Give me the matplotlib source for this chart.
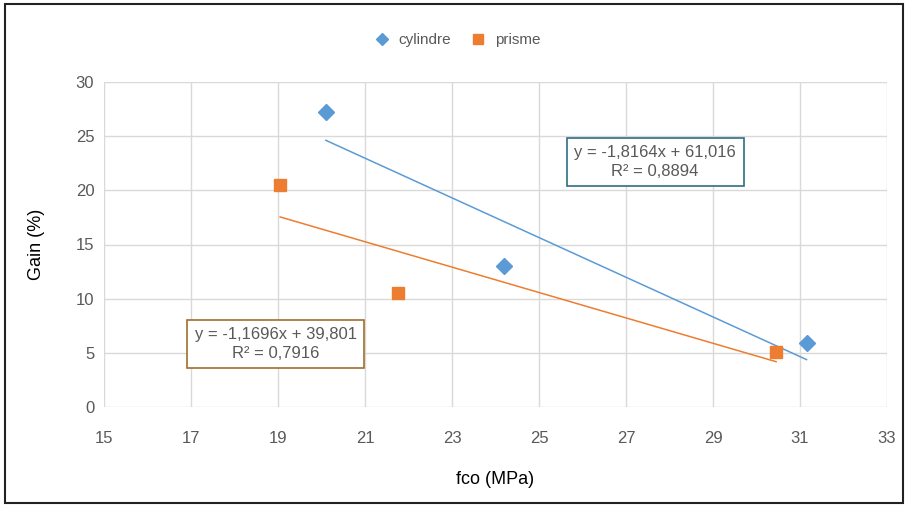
import numpy as np
import matplotlib.pyplot as plt
from matplotlib.patches import Rectangle

plt.rcParams['font.family'] = ['Liberation Sans', 'DejaVu Sans']

# data
cyl_x = [20.1, 24.2, 31.15]
cyl_y = [27.2, 13.0, 5.9]
pri_x = [19.05, 21.75, 30.45]
pri_y = [20.5, 10.5, 5.1]

cyl_eq = 'y = -1,8164x + 61,016\nR² = 0,8894'
pri_eq = 'y = -1,1696x + 39,801\nR² = 0,7916'

x_ticks = [15, 17, 19, 21, 23, 25, 27, 29, 31, 33]
y_ticks = [0, 5, 10, 15, 20, 25, 30]

blue = '#5B9BD5'
orange = '#ED7D31'
grey = '#595959'

fig = plt.figure(figsize=(9.07, 5.05), dpi=100)
ax = fig.add_axes([104 / 907, 1 - 407 / 505, 783 / 907, 325 / 505])

ax.plot(cyl_x, cyl_y, 'D', color=blue, markersize=8, label='cylindre', zorder=4)
ax.plot(pri_x, pri_y, 's', color=orange, markersize=9, label='prisme', zorder=4)

# linear trendlines over the data range
for xs, ys, c in [(cyl_x, cyl_y, blue), (pri_x, pri_y, orange)]:
    a, b = np.polyfit(xs, ys, 1)
    xx = np.array([min(xs), max(xs)])
    ax.plot(xx, a * xx + b, color=c, lw=1.1, zorder=3)

ax.set_xlim(15, 33)
ax.set_ylim(0, 30)
ax.set_xticks(x_ticks)
ax.set_yticks(y_ticks)
ax.grid(True, color='#d9d9d9', lw=1)
ax.set_axisbelow(True)
for s in ax.spines.values():
    s.set_visible(False)
ax.tick_params(length=0, colors=grey, labelsize=12)
ax.tick_params(axis='x', pad=17)
ax.tick_params(axis='y', pad=7)

ax.set_xlabel('fco (MPa)', fontsize=13, labelpad=18)
ax.set_ylabel('Gain (%)', fontsize=13, labelpad=22)

ax.text(27.67, 22.6, cyl_eq, ha='center', va='center', multialignment='center',
        fontsize=12, color=grey, linespacing=1.3,
        bbox=dict(boxstyle='square,pad=0.45', fc='white', ec='#2f6f7f', lw=1.2))
ax.text(18.95, 5.8, pri_eq, ha='center', va='center', multialignment='center',
        fontsize=12, color=grey, linespacing=1.3,
        bbox=dict(boxstyle='square,pad=0.45', fc='white', ec='#a0702a', lw=1.2))

fig.legend(loc='center', bbox_to_anchor=(0.5, 1 - 40 / 505), ncol=2, frameon=False,
           fontsize=11, handletextpad=0.1, columnspacing=0.8, markerscale=0.8,
           labelcolor=grey)

fig.patches.append(Rectangle((5 / 907, 2 / 505), 898 / 907, 499 / 505,
                             transform=fig.transFigure, fill=False,
                             ec='#222222', lw=1.5))

fig.savefig('out.png', dpi=100)
